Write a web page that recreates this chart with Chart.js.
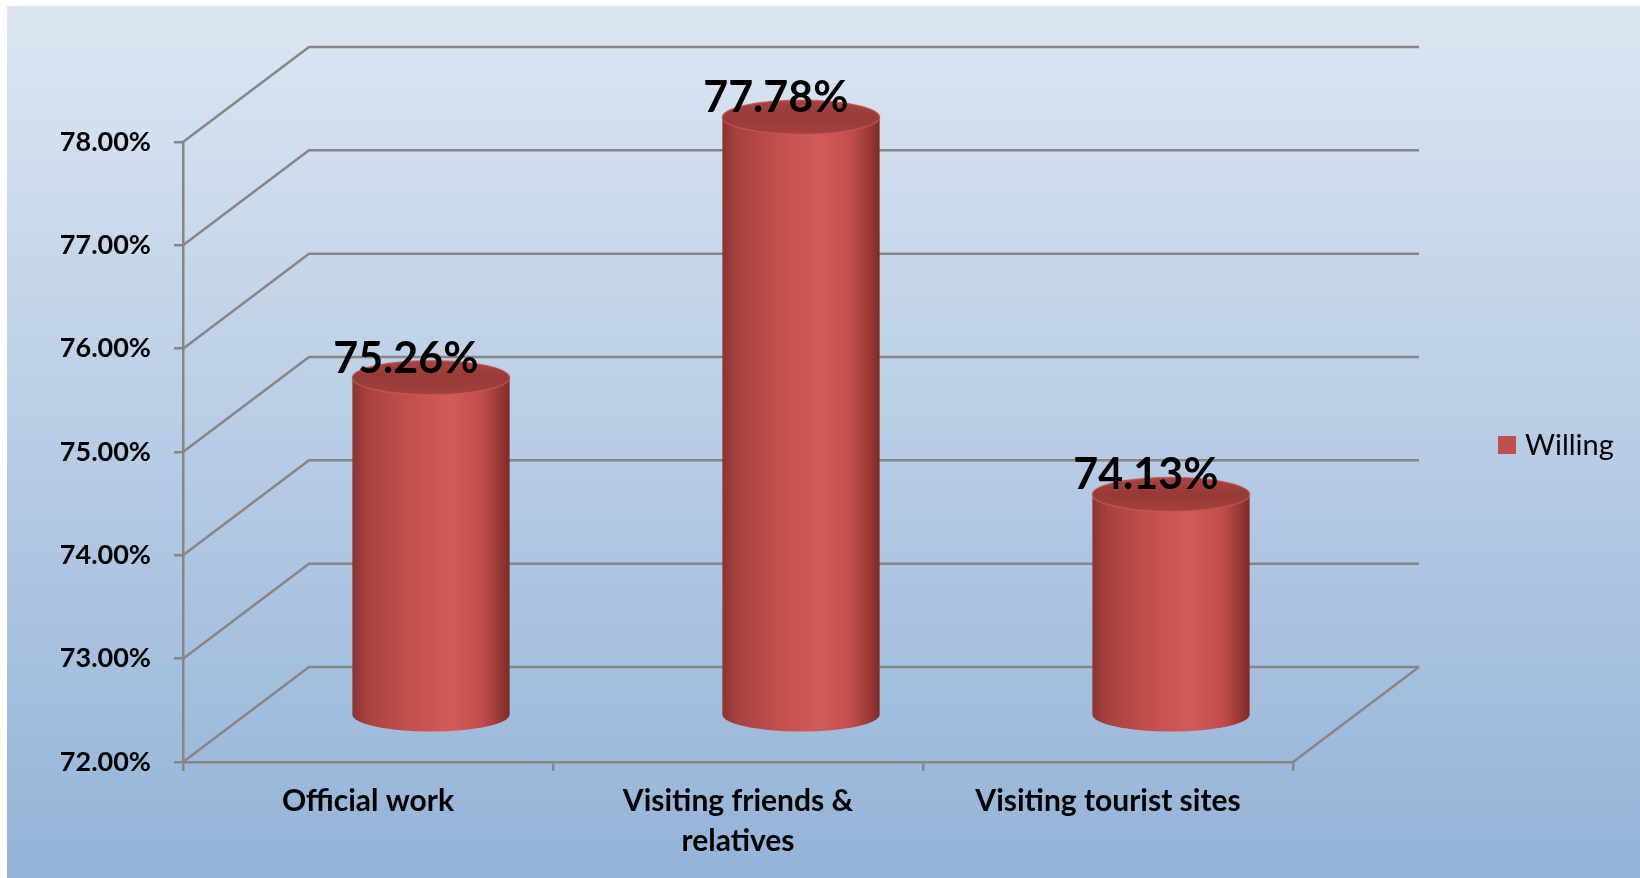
<!DOCTYPE html>
<html lang="en">
<head>
    <meta charset="UTF-8">
    <title>Willing by purpose of travel</title>
    <script src="https://cdn.jsdelivr.net/npm/chart.js"></script>
    <style>
        body { margin: 0; background: #fff; }
        canvas { display: block; }
    </style>
</head>
<body>
    <canvas id="willChart" width="1640" height="878"></canvas>
    <script>
        // data
        var categories = ['Official work', ['Visiting friends &', 'relatives'], 'Visiting tourist sites'];
        var willing = [75.26, 77.78, 74.13];
        var yTicks = [72, 73, 74, 75, 76, 77, 78];
        var seriesName = 'Willing';

        var depthX = 126, depthY = -95; // how far the back wall sits from the front plane
        var lineGrey = '#868686';
        var barRed = '#c0504d';

        function drawCylinder(c, cx, topY, baseY, rx, ry) {
            var g = c.createLinearGradient(cx - rx, 0, cx + rx, 0);
            g.addColorStop(0, '#8a3431');
            g.addColorStop(0.1, '#a8423f');
            g.addColorStop(0.35, '#c24f4c');
            g.addColorStop(0.62, '#d35a57');
            g.addColorStop(0.82, '#c24e4b');
            g.addColorStop(0.95, '#933633');
            g.addColorStop(1, '#7b2b29');
            c.beginPath();
            c.moveTo(cx - rx, topY);
            c.lineTo(cx - rx, baseY);
            c.ellipse(cx, baseY, rx, ry, 0, Math.PI, 0, true);
            c.lineTo(cx + rx, topY);
            c.ellipse(cx, topY, rx, ry, 0, 0, Math.PI, true);
            c.closePath();
            c.fillStyle = g;
            c.fill();

            // top cap
            var t = c.createLinearGradient(0, topY - ry, 0, topY + ry);
            t.addColorStop(0, '#a9433f');
            t.addColorStop(0.5, '#963b38');
            t.addColorStop(1, '#a3413e');
            c.beginPath();
            c.ellipse(cx, topY, rx, ry, 0, 0, Math.PI * 2);
            c.fillStyle = t;
            c.fill();
            c.lineWidth = 1.5;
            c.strokeStyle = 'rgba(200,88,84,0.7)';
            c.stroke();
        }

        var box3d = {
            id: 'box3d',
            beforeDraw: function(chart) {
                var c = chart.ctx;
                c.save();
                c.fillStyle = '#ffffff';
                c.fillRect(0, 0, chart.width, chart.height);
                var g = c.createLinearGradient(0, 6, 0, chart.height);
                g.addColorStop(0, '#dce6f2');
                g.addColorStop(1, '#94b3d8');
                c.fillStyle = g;
                c.fillRect(7, 6, chart.width - 7, chart.height - 6);
                c.restore();
            },
            beforeDatasetsDraw: function(chart) {
                var c = chart.ctx, a = chart.chartArea, ys = chart.scales.y;
                c.save();
                c.strokeStyle = lineGrey;
                c.lineWidth = 2.5;
                c.lineJoin = 'round';
                ys.ticks.forEach(function(t) {
                    var py = ys.getPixelForValue(t.value);
                    c.beginPath();
                    c.moveTo(a.left, py);
                    c.lineTo(a.left + depthX, py + depthY);
                    c.lineTo(a.right + depthX, py + depthY);
                    c.stroke();
                });
                c.beginPath();
                c.moveTo(a.right, a.bottom);
                c.lineTo(a.right + depthX, a.bottom + depthY);
                c.stroke();

                var meta = chart.getDatasetMeta(0);
                var vals = chart.data.datasets[0].data;
                var floorY = ys.getPixelForValue(ys.min);
                meta.data.forEach(function(bar) {
                    drawCylinder(c, bar.x + depthX / 2, bar.y + depthY / 2, floorY + depthY / 2, bar.width / 2, 17);
                });
                c.fillStyle = '#000';
                c.font = 'bold 43px Lato';
                c.textAlign = 'center';
                c.textBaseline = 'alphabetic';
                meta.data.forEach(function(bar, i) {
                    c.fillText(vals[i].toFixed(2) + '%', bar.x + depthX * 0.3, bar.y + depthY / 2 - 5);
                });
                c.restore();
                return false;
            },
            afterDraw: function(chart) {
                var c = chart.ctx, ds = chart.data.datasets[0];
                c.save();
                c.fillStyle = ds.backgroundColor;
                c.fillRect(1498, 436, 18, 18);
                c.fillStyle = '#000';
                c.font = '29px Lato';
                c.textBaseline = 'alphabetic';
                c.fillText(ds.label, 1525, 455);
                c.restore();
            }
        };

        var ctx = document.getElementById('willChart').getContext('2d');
        var willChart = new Chart(ctx, {
            type: 'bar',
            data: {
                labels: categories,
                datasets: [{
                    label: seriesName,
                    data: willing,
                    backgroundColor: barRed,
                    barPercentage: 0.85,
                    categoryPercentage: 0.5
                }]
            },
            options: {
                responsive: false,
                animation: false,
                layout: { padding: { top: 142, right: 347, left: 0, bottom: 0 } },
                plugins: {
                    legend: { display: false },
                    tooltip: { enabled: false }
                },
                scales: {
                    x: {
                        afterFit: function(s) { s.height = 116; },
                        grid: { drawOnChartArea: false, color: lineGrey, lineWidth: 2.5, tickLength: 9 },
                        border: { color: lineGrey, width: 2.5 },
                        ticks: {
                            color: '#000',
                            padding: 11,
                            maxRotation: 0,
                            font: { family: 'Lato', weight: 'bold', size: 30, lineHeight: 1.32 }
                        }
                    },
                    y: {
                        min: yTicks[0],
                        max: yTicks[yTicks.length - 1],
                        afterFit: function(s) { s.width = 183; },
                        grid: { drawOnChartArea: false, color: lineGrey, lineWidth: 2.5, tickLength: 9 },
                        border: { color: lineGrey, width: 2.5 },
                        ticks: {
                            stepSize: 1,
                            color: '#000',
                            padding: 23,
                            font: { family: 'Lato', weight: 'bold', size: 27 },
                            callback: function(v) { return v.toFixed(2) + '%'; }
                        }
                    }
                }
            },
            plugins: [box3d]
        });
    </script>
</body>
</html>
